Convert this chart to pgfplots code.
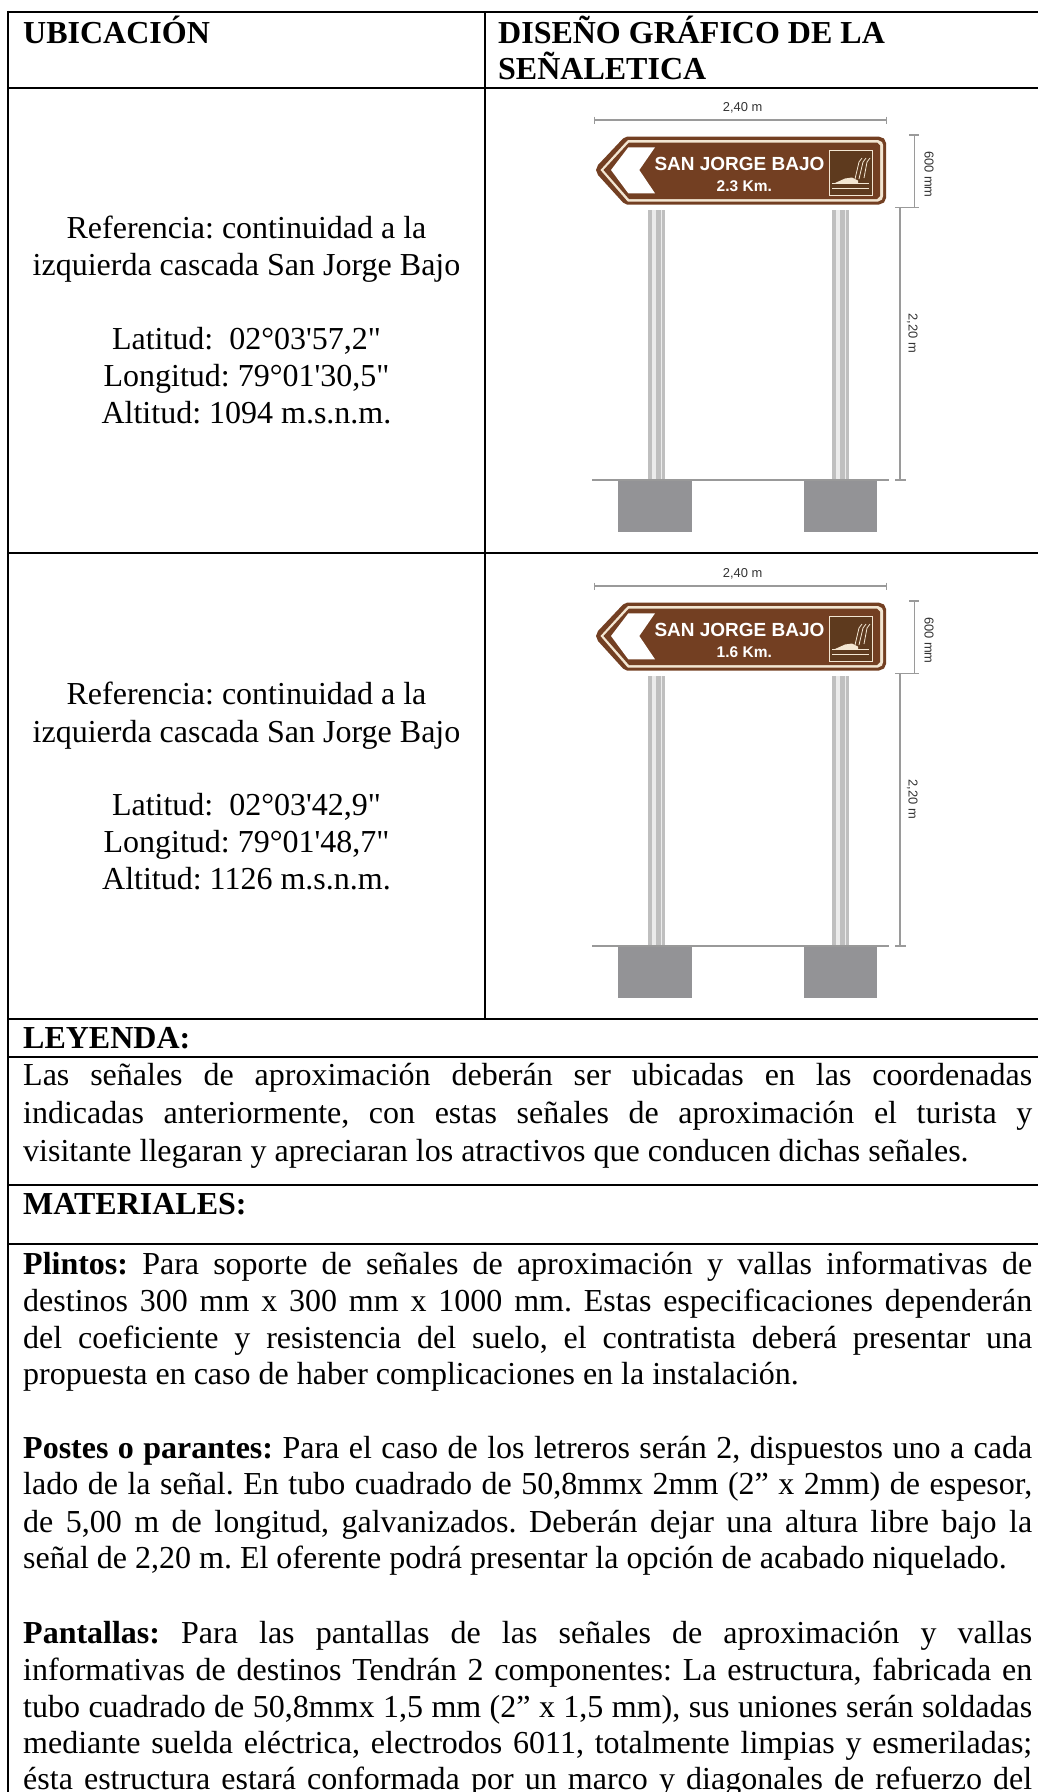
\documentclass[border=0pt]{standalone}
\usepackage{fontspec}
\usepackage{pgfplots}
\pgfplotsset{compat=1.18}
\setmainfont{Liberation Serif}
\newfontfamily\tnr{Liberation Serif}
\newfontfamily\ars{Liberation Sans}
\definecolor{signbrown}{HTML}{733F22}
\definecolor{signdark}{HTML}{5E3A1E}
\definecolor{signcream}{HTML}{F3E6D2}
\definecolor{dimgray}{HTML}{9A9A9A}
\definecolor{plinth}{HTML}{939396}
\newcommand{\bodyfont}{\frenchspacing\tnr\fontsize{32}{38}\selectfont}
\newcommand{\jl}[2]{\node[anchor=base west,inner sep=0pt] at (axis cs:23,#1) {\bodyfont\hbox to 1009pt{\spaceskip=.25em plus 1fil minus .08em\relax #2}};}
\newcommand{\pl}[3]{\node[anchor=base west,inner sep=0pt] at (axis cs:#1,#2) {\bodyfont #3};}
\newcommand{\cl}[2]{\node[anchor=base,inner sep=0pt] at (axis cs:246.5,#1) {\bodyfont #2};}
\newcommand{\hl}[3]{\addplot[black,line width=#3pt] coordinates {(#1,#2) (1038,#2)};}
\newcommand{\Sign}[2]{%
  \pgfplotsset{sg/.style={y filter/.expression={y+#1}}}
  % dimension lines
  \addplot[sg,dimgray,line width=1.2pt] coordinates {(594.3,120) (886.7,120)};
  \addplot[sg,dimgray,line width=1.2pt] coordinates {(594.3,116.5) (594.3,123.5)};
  \addplot[sg,dimgray,line width=1.2pt] coordinates {(886.7,116.5) (886.7,123.5)};
  \addplot[sg,dimgray,line width=1.2pt] coordinates {(914.3,135) (914.3,207.7)};
  \addplot[sg,dimgray,line width=1.2pt] coordinates {(909,135) (919,135)};
  \addplot[sg,dimgray,line width=1.2pt] coordinates {(895,207.7) (919,207.7)};
  \addplot[sg,dimgray,line width=1.2pt] coordinates {(900,207.7) (900,480)};
  \addplot[sg,dimgray,line width=1.2pt] coordinates {(895,480) (906,480)};
  % posts
  \addplot[sg,fill=black!25,draw=none] coordinates {(648.3,210) (665,210) (665,480) (648.3,480)} -- cycle;
  \addplot[sg,fill=black!8,draw=none] coordinates {(652,210) (655.5,210) (655.5,480) (652,480)} -- cycle;
  \addplot[sg,fill=black!8,draw=none] coordinates {(660.5,210) (662,210) (662,480) (660.5,480)} -- cycle;
  \addplot[sg,fill=black!25,draw=none] coordinates {(832.3,210) (849,210) (849,480) (832.3,480)} -- cycle;
  \addplot[sg,fill=black!8,draw=none] coordinates {(836,210) (839.5,210) (839.5,480) (836,480)} -- cycle;
  \addplot[sg,fill=black!8,draw=none] coordinates {(844.5,210) (846,210) (846,480) (844.5,480)} -- cycle;
  % plinths and ground
  \addplot[sg,fill=plinth,draw=none] coordinates {(618.3,480) (691.7,480) (691.7,531.7) (618.3,531.7)} -- cycle;
  \addplot[sg,fill=plinth,draw=none] coordinates {(804,480) (877.3,480) (877.3,531.7) (804,531.7)} -- cycle;
  \addplot[sg,black!40,line width=1.4pt] coordinates {(592.3,480) (889.3,480)};
  % sign
  \addplot[sg,fill=signbrown,draw=none] coordinates {(596,170) (598,165) (623,138.5) (627,136.7) (879,136.7) (884,138.5) (886,143) (886,198) (884,202.5) (879,204.5) (627,204.5) (623,202.5) (598,175)} -- cycle;
  \addplot[sg,fill=signcream,draw=none] coordinates {(600.5,170) (626,142) (628,140) (878,140) (882,142) (883,145) (883,196) (882,199.5) (878,201.5) (628,201.5) (626,199.5)} -- cycle;
  \addplot[sg,fill=signbrown,draw=none] coordinates {(603.5,170) (629,142.5) (877,142.5) (880,145.5) (880,196) (877,199) (629,199)} -- cycle;
  \addplot[sg,fill=white,draw=none] coordinates {(655,147.3) (628.3,147.3) (611,170) (628.3,193.3) (655,193.3) (639.3,170)} -- cycle;
  % pictogram
  \addplot[sg,fill=signdark,draw=signcream,line width=.8pt] coordinates {(829,150) (872,150) (872,195) (829,195)} -- cycle;
  \addplot[sg,fill=signcream,draw=none] coordinates {(835,183) (845,178.5) (852,177.5) (858,180.5) (858,183)} -- cycle;
  \addplot[sg,signcream,line width=1.3pt] coordinates {(832,183.5) (869,183.5)};
  \addplot[sg,signcream,line width=1.3pt] coordinates {(832,188.5) (869,188.5)};
  \addplot[sg,signcream,line width=.8pt] coordinates {(855,179) (859,162) (862,158)};
  \addplot[sg,signcream,line width=.8pt] coordinates {(859,179) (863,162) (866,158)};
  \addplot[sg,signcream,line width=.8pt] coordinates {(864,178) (867,162) (870,158)};
  \node[anchor=center,inner sep=0pt,text=white] at (axis cs:739.5,{164+#1}) {\ars\bfseries\fontsize{19}{19}\selectfont SAN JORGE BAJO};
  \node[anchor=center,inner sep=0pt,text=white] at (axis cs:744.3,{185.7+#1}) {\ars\bfseries\fontsize{15.5}{15.5}\selectfont #2};
  \node[anchor=center,inner sep=0pt,text=black!80] at (axis cs:742.7,{108+#1}) {\ars\fontsize{12.9}{13}\selectfont 2,40 m};
  \node[anchor=center,inner sep=0pt,rotate=-90,text=black!80] at (axis cs:929,{174.3+#1}) {\ars\fontsize{12.9}{13}\selectfont 600 mm};
  \node[anchor=center,inner sep=0pt,rotate=-90,text=black!80] at (axis cs:912.3,{333.3+#1}) {\ars\fontsize{12.9}{13}\selectfont 2,20 m};
}
\begin{document}
\begin{tikzpicture}[x=1pt,y=1pt]
\path[use as bounding box] (0,0) rectangle (1038pt,1792pt);
\begin{axis}[at={(0,0)},anchor=south west,scale only axis,width=1038pt,height=1792pt,
  xmin=0,xmax=1038,ymin=0,ymax=1792,y dir=reverse,hide axis,clip=false]
\Sign{0}{2.3 Km.}
\Sign{466}{1.6 Km.}
% table rules
\addplot[black,line width=2.6pt] coordinates {(8,10.7) (8,1792)};
\addplot[black,line width=2.6pt] coordinates {(485,12) (485,1019)};
\hl{8}{12}{2.6}
\hl{8}{88}{2.4}
\hl{8}{553}{2.4}
\hl{8}{1019}{2.8}
\hl{8}{1057}{2.6}
\hl{8}{1185}{2.6}
\hl{8}{1244}{2.6}
% header
\pl{23}{43}{\bfseries UBICACIÓN}
\pl{498}{43}{\bfseries DISEÑO GRÁFICO DE LA}
\pl{498}{79}{\bfseries SEÑALETICA}
% row 1
\cl{238}{Referencia: continuidad a la}
\cl{275}{izquierda cascada San Jorge Bajo}
\cl{349}{Latitud:\ \ 02°03'57,2"}
\cl{386}{Longitud: 79°01'30,5"}
\cl{423}{Altitud: 1094 m.s.n.m.}
% row 2
\cl{704}{Referencia: continuidad a la}
\cl{742}{izquierda cascada San Jorge Bajo}
\cl{815}{Latitud:\ \ 02°03'42,9"}
\cl{852}{Longitud: 79°01'48,7"}
\cl{889}{Altitud: 1126 m.s.n.m.}
% legend
\pl{23}{1048}{\bfseries LEYENDA:}
\jl{1085}{Las señales de aproximación deberán ser ubicadas en las coordenadas}
\jl{1123}{indicadas anteriormente, con estas señales de aproximación el turista y}
\pl{23}{1161}{visitante llegaran y apreciaran los atractivos que conducen dichas señales.}
% materials
\pl{23}{1214}{\bfseries MATERIALES:}
\jl{1274}{\textbf{Plintos:} Para soporte de señales de aproximación y vallas informativas de}
\jl{1311}{destinos 300 mm x 300 mm x 1000 mm. Estas especificaciones dependerán}
\jl{1348}{del coeficiente y resistencia del suelo, el contratista deberá presentar una}
\pl{23}{1384}{propuesta en caso de haber complicaciones en la instalación.}
\jl{1458}{\textbf{Postes o parantes:} Para el caso de los letreros serán 2, dispuestos uno a cada}
\jl{1494}{lado de la señal. En tubo cuadrado de 50,8mmx 2mm (2” x 2mm) de espesor,}
\jl{1532}{de 5,00 m de longitud, galvanizados. Deberán dejar una altura libre bajo la}
\pl{23}{1568}{señal de 2,20 m. El oferente podrá presentar la opción de acabado niquelado.}
\jl{1643}{\textbf{Pantallas:} Para las pantallas de las señales de aproximación y vallas}
\jl{1680}{informativas de destinos Tendrán 2 componentes: La estructura, fabricada en}
\jl{1717}{tubo cuadrado de 50,8mmx 1,5 mm (2” x 1,5 mm), sus uniones serán soldadas}
\jl{1753}{mediante suelda eléctrica, electrodos 6011, totalmente limpias y esmeriladas;}
\jl{1789}{ésta estructura estará conformada por un marco y diagonales de refuerzo del}
\end{axis}
\end{tikzpicture}
\end{document}
